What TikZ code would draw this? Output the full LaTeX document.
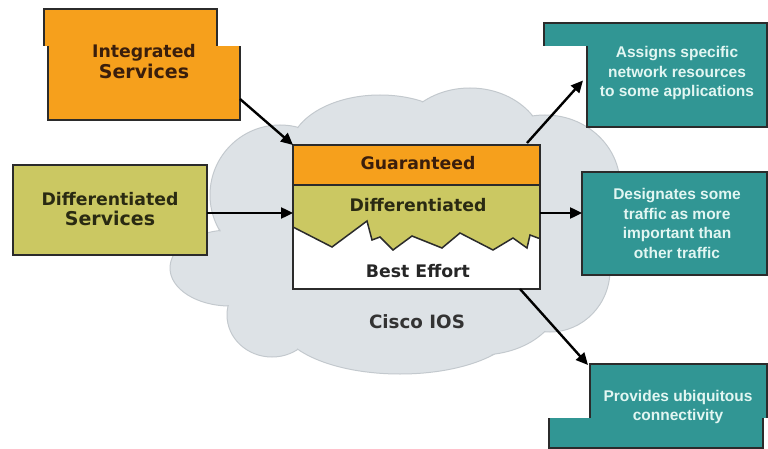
\documentclass[tikz,border=0pt]{standalone}
\usepackage{fontspec}
\setmainfont{DejaVu Sans}
\newfontfamily\tealfont{Liberation Sans}
\usetikzlibrary{arrows.meta,calc}
\definecolor{orng}{HTML}{F6A01C}
\definecolor{olivec}{HTML}{CBC862}
\definecolor{tealc}{HTML}{319694}
\definecolor{tealtxt}{HTML}{E2F6F2}
\definecolor{cloudfill}{HTML}{DDE2E6}
\definecolor{cloudline}{HTML}{C3C9CE}
\definecolor{browntxt}{HTML}{3A1E0C}
\definecolor{olivetxt}{HTML}{2A2A12}
\definecolor{edgec}{HTML}{2B2B2B}
\begin{document}
\begin{tikzpicture}[x=1pt,y=-1pt,
  conn/.style={draw=black,line width=2.4pt,-{Triangle[length=12pt,width=11pt]}},
  bx/.style={draw=edgec,line width=1.6pt},
  boxshape/.style={rectangle,inner sep=0pt,outer sep=0pt},
  ttxt/.style={text=tealtxt,font=\tealfont\bfseries\fontsize{15.5}{19.5}\selectfont,align=center,inner sep=0pt},
  otxt/.style={text=browntxt,font=\bfseries\fontsize{17.3}{21}\selectfont,align=center,inner sep=0pt},
  ltxt/.style={text=olivetxt,font=\bfseries\fontsize{17.3}{20}\selectfont,align=center,inner sep=0pt},
  cloudpart/.style={draw=cloudline,line width=1pt,fill=cloudfill},
  cloudfillonly/.style={fill=cloudfill}]
\useasboundingbox (0,0) rectangle (768,449);
\fill[white] (0,0) rectangle (768,449);

% ---- cloud ----
\foreach \cx/\cy/\rx/\ry in {280/195/70/70, 380/150/90/55, 470/150/75/62, 545/185/75/70,
  550/270/60/62, 230/268/60/38, 272/315/45/42, 400/322/120/52, 480/298/80/57, 400/230/180/110}
  {\path[cloudpart] (\cx,\cy) ellipse [x radius=\rx, y radius=\ry];}
\foreach \cx/\cy/\rx/\ry in {280/195/70/70, 380/150/90/55, 470/150/75/62, 545/185/75/70,
  550/270/60/62, 230/268/60/38, 272/315/45/42, 400/322/120/52, 480/298/80/57, 400/230/180/110}
  {\path[cloudfillonly] (\cx,\cy) ellipse [x radius=\rx-1, y radius=\ry-1];}

% ---- Integrated Services (two offset pieces) ----
\fill[orng] (44,9) rectangle (217,46);
\draw[bx] (44,46) -- (44,9) -- (217,9) -- (217,46);
\node[boxshape,fill=orng,minimum width=192pt,minimum height=74pt] (intl) at (144,83) {};
\draw[bx] (intl.north west) -- (intl.south west) -- (intl.south east) -- (intl.north east);
\node[otxt] (intt) at (144,62) {Integrated\\\fontsize{19}{21}\selectfont Services};

% ---- Differentiated Services ----
\node[boxshape,bx,fill=olivec,minimum width=194pt,minimum height=90pt] (dsrv) at (110,210) {};
\node[ltxt] (dsrvt) at (110,209) {Differentiated\\\fontsize{19}{20}\selectfont Services};

% ---- Assigns box ----
\fill[tealc] (544,23) rectangle (767,46);
\draw[bx] (544,46) -- (544,23) -- (767,23) -- (767,46);
\node[boxshape,fill=tealc,minimum width=180pt,minimum height=81pt] (asgl) at (677,86.5) {};
\draw[bx] (asgl.north west) -- (asgl.south west) -- (asgl.south east) -- (asgl.north east);
\node[ttxt] (asgt) at (677,73) {Assigns specific\\network resources\\to some applications};

% ---- Designates box ----
\node[boxshape,bx,fill=tealc,minimum width=185pt,minimum height=103pt] (des) at (674.5,223.5) {};
\node[ttxt] (dest) at (677,223.5) {Designates some\\traffic as more\\important than\\other traffic};

% ---- Provides box (two offset pieces) ----
\node[boxshape,fill=tealc,minimum width=177pt,minimum height=54pt] (provu) at (678.5,391) {};
\node[boxshape,fill=tealc,minimum width=214pt,minimum height=30pt] (provl) at (656,433) {};
\draw[bx] (provu.south west) -- (provu.north west) -- (provu.north east) -- (provu.south east);
\draw[bx] (provl.north west) -- (provl.south west) -- (provl.south east) -- (provl.north east);
\node[ttxt] (provt) at (678,407) {Provides ubiquitous\\connectivity};

% ---- central QoS box ----
\node[boxshape,fill=white,minimum width=247pt,minimum height=144pt] (core) at (416.5,217) {};
\fill[orng] (core.north west) rectangle (540,185);
\fill[olivec] (293,185) -- (540,185) -- (540,238) -- (538,238) -- (530,235) -- (527,248) -- (513,238)
  -- (493,250) -- (460,233) -- (442,248) -- (412,236) -- (393,250) -- (380,237) -- (372,240)
  -- (367,221) -- (332,247) -- (293,227) -- cycle;
\draw[edgec,line width=1.5pt,line join=miter] (293,227) -- (332,247) -- (367,221) -- (372,240) -- (380,237)
  -- (393,250) -- (412,236) -- (442,248) -- (460,233) -- (493,250) -- (513,238) -- (527,248)
  -- (530,235) -- (538,238) -- (540,238);
\draw[edgec,line width=1.5pt] (293,185) -- (540,185);
\draw[bx] (core.north west) rectangle (core.south east);
\node[otxt] (gtxt) at (418,163) {Guaranteed};
\node[ltxt] (dtxt) at (418,205) {Differentiated};
\node[text=black!85,font=\bfseries\fontsize{17.3}{20}\selectfont,inner sep=0pt] (btxt) at (418,271) {Best Effort};
\node[text=black!80,font=\bfseries\fontsize{18.3}{20}\selectfont,inner sep=0pt] (cisco) at (417,322) {Cisco IOS};

% ---- connectors ----
\coordinate (a1) at ($(intl.south east)+(0,-21)$);
\draw[conn] (a1) -- (core.north west);
\draw[conn] (dsrv.east |- 0,213) -- (core.west |- 0,213);
\coordinate (a3) at ($(core.north east)+(-13,-2)$);
\coordinate (a3e) at ($(asgl.west)+(-4,-6)$);
\draw[conn] (a3) -- (a3e);
\draw[conn] (core.east |- 0,213) -- (des.west |- 0,213);
\coordinate (a5) at ($(core.south east)+(-20,0)$);
\coordinate (a5e) at ($(provu.north west)+(-2,1)$);
\draw[conn] (a5) -- (a5e);
\end{tikzpicture}
\end{document}
